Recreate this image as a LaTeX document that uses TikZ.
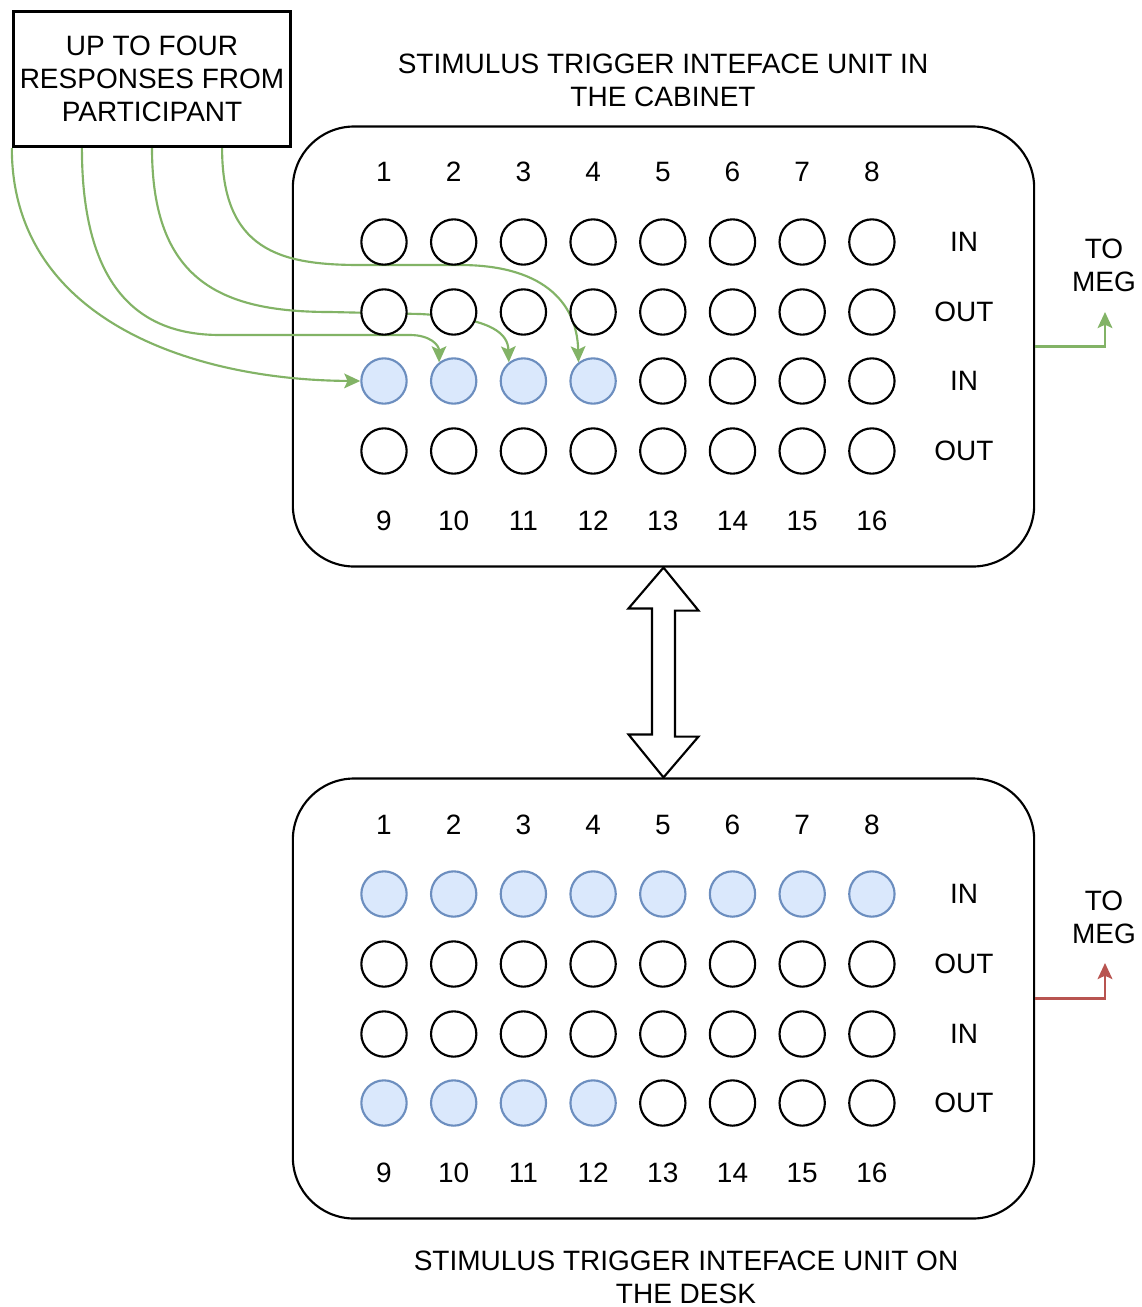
\documentclass[tikz,border=0pt]{standalone}
\usepackage{fontspec}
\setmainfont{Liberation Sans}
\usetikzlibrary{arrows.meta,calc}
\definecolor{dgreen}{HTML}{82B366}
\definecolor{dred}{HTML}{B85450}
\definecolor{bfill}{HTML}{DAE8FC}
\definecolor{bdraw}{HTML}{6C8EBF}
\pgfdeclarelayer{bg}
\pgfdeclarelayer{wires}
\pgfsetlayers{bg,wires,main}
\begin{document}
\begin{tikzpicture}[x=0.75pt,y=-0.75pt,
  font=\fontsize{21}{24.75}\selectfont,
  port/.style={circle,draw=black,line width=1.6pt,fill=white,minimum size=34pt,inner sep=0pt},
  active/.style={port,draw=bdraw,fill=bfill},
  unitbox/.style={draw,line width=1.6pt,fill=white,rounded corners=46pt,minimum width=556pt,minimum height=330pt,inner sep=0pt},
  lbl/.style={inner sep=0pt,align=center},
  wire/.style={dgreen,line width=1.6pt,-{Stealth[length=12pt,width=11pt,inset=2.5pt]}},
  outwire/.style={line width=2pt,-{Stealth[length=12pt,width=11pt,inset=2.5pt]}}
]
\useasboundingbox (0,0) rectangle (1142,1307);

% units
\begin{pgfonlayer}{bg}
\node[unitbox] (top) at (663.5,346.5) {};
\node[unitbox] (bot) at (663.5,998.5) {};
\end{pgfonlayer}

% titles
\node[lbl] (ttop) at (663,80) {STIMULUS TRIGGER INTEFACE UNIT IN\\THE CABINET};
\node[lbl] (tbot) at (686,1277) {STIMULUS TRIGGER INTEFACE UNIT ON\\THE DESK};

% response box
\node[draw,line width=2.25pt,minimum width=208pt,minimum height=101.5pt,inner sep=0pt,align=center] (resp) at (152,79) {UP TO FOUR\\RESPONSES FROM\\PARTICIPANT};

% ports
\foreach \i in {1,...,8}{
  \pgfmathsetmacro\xx{384+(\i-1)*69.7}
  \pgfmathtruncatemacro\j{\i+8}
  \node[lbl] (tn\i) at (\xx,172) {\i};
  \node[lbl] (tm\i) at (\xx,521) {\j};
  \node[lbl] (bn\i) at (\xx,825) {\i};
  \node[lbl] (bm\i) at (\xx,1173) {\j};
  \node[port] (t1-\i) at (\xx,242) {};
  \node[port] (t2-\i) at (\xx,312) {};
  \node[port] (t4-\i) at (\xx,451) {};
  \node[active] (b1-\i) at (\xx,894) {};
  \node[port] (b2-\i) at (\xx,964) {};
  \node[port] (b3-\i) at (\xx,1034) {};
}
\foreach \i in {1,...,4}{
  \pgfmathsetmacro\xx{384+(\i-1)*69.7}
  \node[active] (t3-\i) at (\xx,381) {};
  \node[active] (b4-\i) at (\xx,1103) {};
}
\foreach \i in {5,...,8}{
  \pgfmathsetmacro\xx{384+(\i-1)*69.7}
  \node[port] (t3-\i) at (\xx,381) {};
  \node[port] (b4-\i) at (\xx,1103) {};
}

% row labels
\foreach \y/\t [count=\k] in {242/IN,312/OUT,381/IN,451/OUT}{
  \node[lbl] (tl\k) at (964,\y) {\t};
}
\foreach \y/\t [count=\k] in {894/IN,964/OUT,1034/IN,1103/OUT}{
  \node[lbl] (bl\k) at (964,\y) {\t};
}

% TO MEG
\node[lbl] (meg1) at (1104,265) {TO\\MEG};
\node[lbl] (meg2) at (1104,917) {TO\\MEG};
\coordinate (meg1tip) at (1105,312);
\coordinate (meg2tip) at (1105,963);
\draw[outwire,dgreen] (top.east) -| (meg1tip);
\draw[outwire,dred] (bot.east) -| (meg2tip);

% wires from participant
\coordinate (r0) at (resp.south west);
\coordinate (r1) at ($(resp.south west)!0.25!(resp.south east)$);
\coordinate (r2) at ($(resp.south west)!0.5!(resp.south east)$);
\coordinate (r3) at ($(resp.south west)!0.75!(resp.south east)$);
\begin{pgfonlayer}{wires}
\draw[wire] (r0) .. controls +(0,170) and (190,380) .. (t3-1.west);
\draw[wire] (r1) .. controls +(0,152) and (150,335) .. (220,335) -- (410,335) .. controls (430,335) and (439,345) .. (t3-2.128);
\draw[wire] (r2) .. controls +(0,132) and (220,312) .. (330,312) -- (420,314) .. controls (495,318) and (508,335) .. (t3-3.128);
\draw[wire] (r3) .. controls +(0,102) and (280,265) .. (360,265) -- (460,265) .. controls (540,265) and (577,300) .. (t3-4.128);
\end{pgfonlayer}

% double arrow between units
\draw[line width=1.6pt,fill=white,line join=miter] (top.south) -- ++(35,43) -- ++(-23.5,0) -- ++(0,126) -- ++(23.5,0) -- (bot.north) -- ++(-35,-43) -- ++(23.5,0) -- ++(0,-126) -- ++(-23.5,0) -- cycle;
\end{tikzpicture}
\end{document}
